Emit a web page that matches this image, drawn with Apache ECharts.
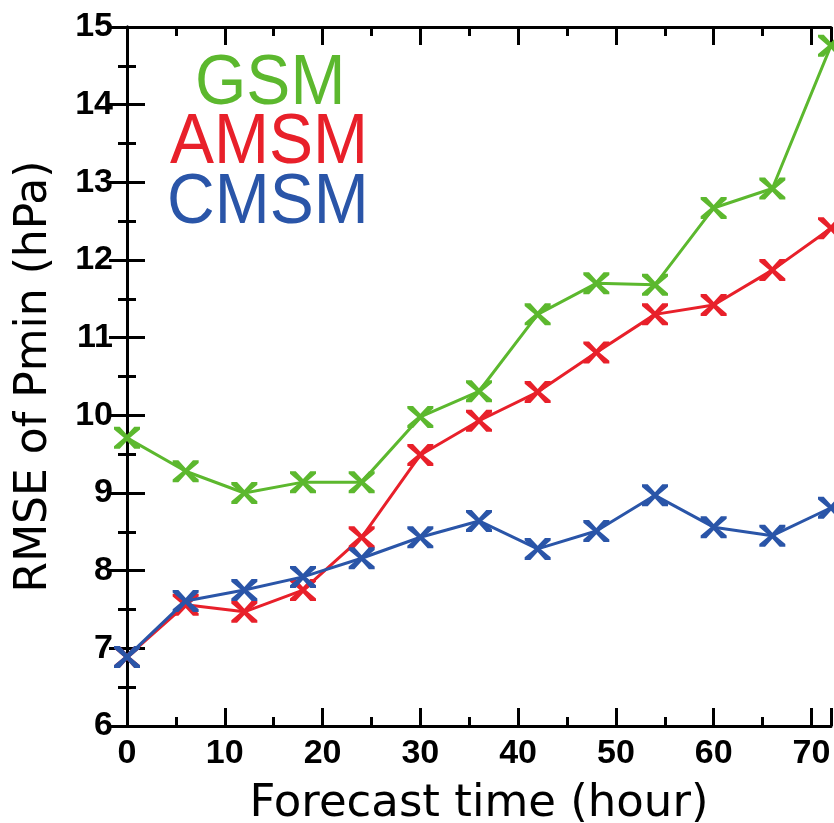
<!DOCTYPE html>
<html><head><meta charset="utf-8">
<script src="https://cdn.jsdelivr.net/npm/echarts@6/dist/echarts.min.js"></script>
<style>html,body{margin:0;padding:0;background:#fff}#c{width:834px;height:823px}</style>
</head><body><div id="c"></div>
<script>
const hours = [0, 6, 12, 18, 24, 30, 36, 42, 48, 54, 60, 66, 72];
const gsm  = [9.71, 9.28, 9.00, 9.14, 9.14, 9.98, 10.31, 11.30, 11.70, 11.68, 12.67, 12.92, 14.76];
const amsm = [6.89, 7.56, 7.47, 7.75, 8.43, 9.49, 9.93, 10.30, 10.81, 11.30, 11.42, 11.87, 12.41];
const cmsm = [6.89, 7.61, 7.75, 7.92, 8.16, 8.43, 8.64, 8.28, 8.51, 8.97, 8.56, 8.45, 8.81];
const seriesNames = ['GSM', 'AMSM', 'CMSM'];
const colors = ['#5cb82e', '#e8202a', '#2a55a8'];
const xTitle = 'Forecast time (hour)';
const yTitle = 'RMSE of Pmin (hPa)';

const pair = arr => hours.map((h, i) => [h, arr[i]]);
const X = 'path://M0,0L2.2,0L5,3.6L7.8,0L10,0L10,1.2L6.2,5L10,8.8L10,10L7.8,10L5,6.4L2.2,10L0,10L0,8.8L3.8,5L0,1.2Z';
const chart = echarts.init(document.getElementById('c'));
const tickFont = {fontFamily: 'Liberation Sans', fontWeight: 'bold', fontSize: 34, color: '#000'};
const axisCommon = {
  axisLine: {show: true, lineStyle: {color: '#000', width: 3}},
  axisTick: {show: true, inside: true, length: 18, lineStyle: {color: '#000', width: 3}},
  minorTick: {show: true, splitNumber: 2, length: 9, lineStyle: {color: '#000', width: 3}},
  splitLine: {show: false}
};
chart.setOption({
  animation: false,
  grid: {left: 127, right: 3, top: 27, bottom: 97, outerBoundsMode: 'none', containLabel: false},
  xAxis: [
    Object.assign({type: 'value', min: 0, max: 72, interval: 10, position: 'bottom',
      name: xTitle, nameLocation: 'middle', nameGap: 56,
      nameTextStyle: {fontFamily: 'DejaVu Sans', fontSize: 45, color: '#000'},
      axisLabel: Object.assign({margin: 11, showMaxLabel: false}, tickFont)}, axisCommon),
    Object.assign({type: 'value', min: 0, max: 72, interval: 10, position: 'top',
      axisLabel: {show: false}}, axisCommon)
  ],
  yAxis: [
    Object.assign({type: 'value', min: 6, max: 15, interval: 1, position: 'left',
      name: yTitle, nameLocation: 'middle', nameGap: 70, nameRotate: 90,
      nameTextStyle: {fontFamily: 'DejaVu Sans', fontSize: 44, color: '#000'},
      axisLabel: Object.assign({margin: 14}, tickFont)}, axisCommon),
    Object.assign({type: 'value', min: 6, max: 15, interval: 1, position: 'right',
      axisLabel: {show: false}}, axisCommon)
  ],
  series: [gsm, amsm, cmsm].map((d, i) => ({
    name: seriesNames[i], type: 'line', data: pair(d),
    symbol: X, symbolSize: [26, 22],
    lineStyle: {color: colors[i], width: 3},
    itemStyle: {color: colors[i]},
    z: 3 + i
  })),
  graphic: seriesNames.map((n, i) => ({
    type: 'text', x: [195, 170, 167][i], y: [49, 108, 168][i], scaleX: 0.93,
    style: {text: n, fill: colors[i], fontFamily: 'Liberation Sans', fontSize: 71,
            align: 'left', verticalAlign: 'top'}
  }))
});
</script></body></html>
